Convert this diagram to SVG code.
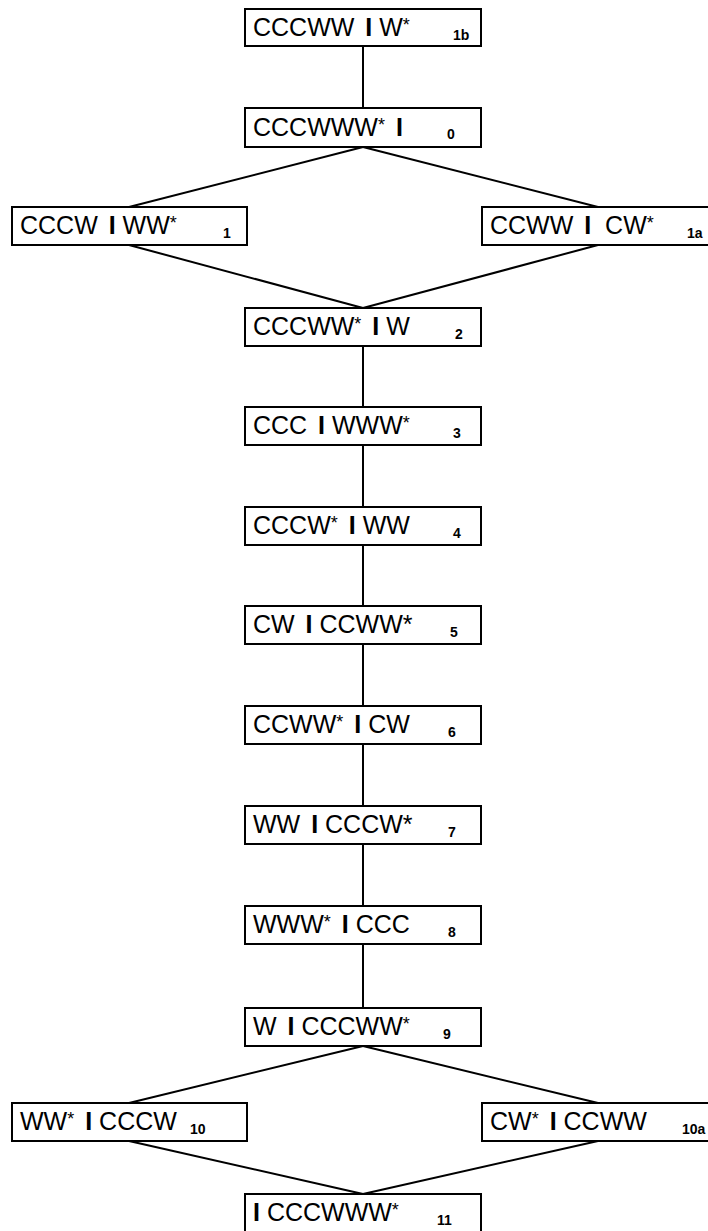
<svg xmlns="http://www.w3.org/2000/svg" width="708" height="1231" viewBox="0 0 708 1231">
  <style>
    .box { fill: #ffffff; stroke: #000000; stroke-width: 2; }
    .edge { stroke: #000000; stroke-width: 2; fill: none; }
    .lbl { font-family: "Liberation Sans", Arial, sans-serif; font-size: 25px; fill: #000000; }
    .b { font-weight: bold; }
    .st { font-size: 18px; }
    .num { font-family: "Liberation Sans", Arial, sans-serif; font-size: 14px; font-weight: bold; fill: #000000; }
  </style>

  <!-- connectors -->
  <g id="connectors">
    <line class="edge" x1="363" y1="46" x2="363" y2="108"/>
    <line class="edge" x1="363" y1="147" x2="129" y2="207"/>
    <line class="edge" x1="363" y1="147" x2="598" y2="207"/>
    <line class="edge" x1="129" y1="245" x2="363" y2="308"/>
    <line class="edge" x1="598" y1="245" x2="363" y2="308"/>
    <line class="edge" x1="363" y1="346" x2="363" y2="407"/>
    <line class="edge" x1="363" y1="445" x2="363" y2="507"/>
    <line class="edge" x1="363" y1="545" x2="363" y2="606"/>
    <line class="edge" x1="363" y1="644" x2="363" y2="706"/>
    <line class="edge" x1="363" y1="744" x2="363" y2="806"/>
    <line class="edge" x1="363" y1="844" x2="363" y2="906"/>
    <line class="edge" x1="363" y1="944" x2="363" y2="1008"/>
    <line class="edge" x1="363" y1="1046" x2="129" y2="1103"/>
    <line class="edge" x1="363" y1="1046" x2="598" y2="1103"/>
    <line class="edge" x1="129" y1="1141" x2="363" y2="1194"/>
    <line class="edge" x1="598" y1="1141" x2="363" y2="1194"/>
  </g>

  <g id="n1b">
    <rect class="box" x="245" y="9" width="236" height="37"/>
    <text class="lbl" x="253" y="36" xml:space="preserve">CCCWW <tspan class="b" dx="4">I</tspan> W<tspan class="st" dy="-5">*</tspan></text>
    <text class="num" x="453" y="40">1b</text>
  </g>

  <g id="n0">
    <rect class="box" x="245" y="108" width="236" height="39"/>
    <text class="lbl" x="253" y="136" xml:space="preserve">CCCWWW<tspan class="st" dy="-5">*</tspan><tspan dy="5"> </tspan><tspan class="b" dx="4">I</tspan></text>
    <text class="num" x="447" y="139">0</text>
  </g>

  <g id="n1">
    <rect class="box" x="12" y="207" width="235" height="38"/>
    <text class="lbl" x="20" y="234" xml:space="preserve">CCCW <tspan class="b" dx="4">I</tspan> WW<tspan class="st" dy="-5">*</tspan></text>
    <text class="num" x="223" y="238">1</text>
  </g>

  <g id="n1a">
    <rect class="box" x="482" y="207" width="236" height="38"/>
    <text class="lbl" x="490" y="234" xml:space="preserve">CCWW <tspan class="b" dx="4">I</tspan>  CW<tspan class="st" dy="-5">*</tspan></text>
    <text class="num" x="687" y="238">1a</text>
  </g>

  <g id="n2">
    <rect class="box" x="245" y="308" width="236" height="38"/>
    <text class="lbl" x="253" y="335" xml:space="preserve">CCCWW<tspan class="st" dy="-5">*</tspan><tspan dy="5"> </tspan><tspan class="b" dx="4">I</tspan> W</text>
    <text class="num" x="455" y="339">2</text>
  </g>

  <g id="n3">
    <rect class="box" x="245" y="407" width="236" height="38"/>
    <text class="lbl" x="253" y="434" xml:space="preserve">CCC <tspan class="b" dx="4">I</tspan> WWW<tspan class="st" dy="-5">*</tspan></text>
    <text class="num" x="453" y="438">3</text>
  </g>

  <g id="n4">
    <rect class="box" x="245" y="507" width="236" height="38"/>
    <text class="lbl" x="253" y="534" xml:space="preserve">CCCW<tspan class="st" dy="-5">*</tspan><tspan dy="5"> </tspan><tspan class="b" dx="4">I</tspan> WW</text>
    <text class="num" x="453" y="538">4</text>
  </g>

  <g id="n5">
    <rect class="box" x="245" y="606" width="236" height="38"/>
    <text class="lbl" x="253" y="633" xml:space="preserve">CW <tspan class="b" dx="4">I</tspan> CCWW*</text>
    <text class="num" x="450" y="637">5</text>
  </g>

  <g id="n6">
    <rect class="box" x="245" y="706" width="236" height="38"/>
    <text class="lbl" x="253" y="733" xml:space="preserve">CCWW<tspan class="st" dy="-5">*</tspan><tspan dy="5"> </tspan><tspan class="b" dx="4">I</tspan> CW</text>
    <text class="num" x="448" y="737">6</text>
  </g>

  <g id="n7">
    <rect class="box" x="245" y="806" width="236" height="38"/>
    <text class="lbl" x="253" y="833" xml:space="preserve">WW <tspan class="b" dx="4">I</tspan> CCCW*</text>
    <text class="num" x="448" y="837">7</text>
  </g>

  <g id="n8">
    <rect class="box" x="245" y="906" width="236" height="38"/>
    <text class="lbl" x="253" y="933" xml:space="preserve">WWW<tspan class="st" dy="-5">*</tspan><tspan dy="5"> </tspan><tspan class="b" dx="4">I</tspan> CCC</text>
    <text class="num" x="448" y="937">8</text>
  </g>

  <g id="n9">
    <rect class="box" x="245" y="1008" width="236" height="38"/>
    <text class="lbl" x="253" y="1035" xml:space="preserve">W <tspan class="b" dx="4">I</tspan> CCCWW<tspan class="st" dy="-5">*</tspan></text>
    <text class="num" x="443" y="1039">9</text>
  </g>

  <g id="n10">
    <rect class="box" x="12" y="1103" width="235" height="38"/>
    <text class="lbl" x="20" y="1130" xml:space="preserve">WW<tspan class="st" dy="-5">*</tspan><tspan dy="5"> </tspan><tspan class="b" dx="4">I</tspan> CCCW</text>
    <text class="num" x="190" y="1134">10</text>
  </g>

  <g id="n10a">
    <rect class="box" x="482" y="1103" width="236" height="38"/>
    <text class="lbl" x="490" y="1130" xml:space="preserve">CW<tspan class="st" dy="-5">*</tspan><tspan dy="5"> </tspan><tspan class="b" dx="4">I</tspan> CCWW</text>
    <text class="num" x="682" y="1134">10a</text>
  </g>

  <g id="n11">
    <rect class="box" x="245" y="1194" width="236" height="38"/>
    <text class="lbl" x="253" y="1221" xml:space="preserve"><tspan class="b">I</tspan> CCCWWW<tspan class="st" dy="-5">*</tspan></text>
    <text class="num" x="437" y="1225">11</text>
  </g>
</svg>
